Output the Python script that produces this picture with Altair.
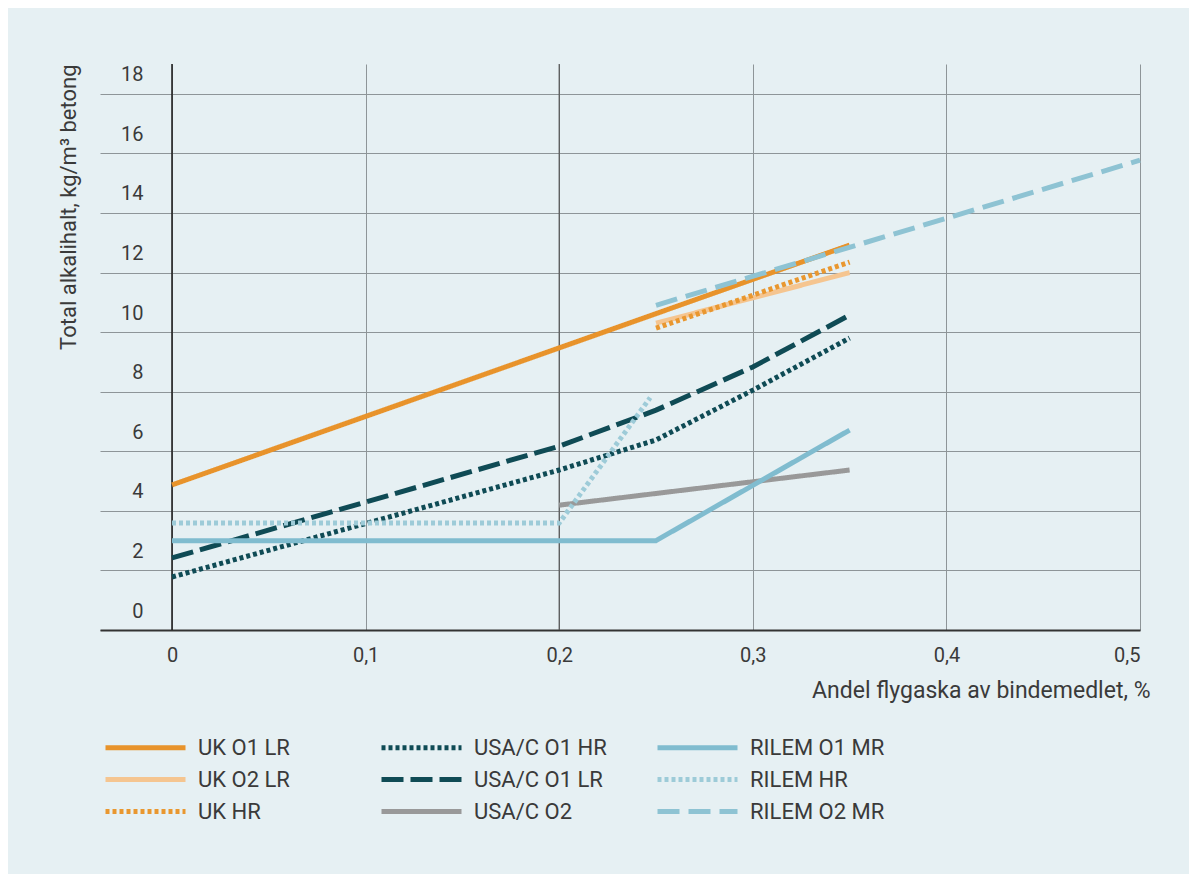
import altair as alt
import pandas as pd

# ---- data ----
series_order = ["UK O1 LR", "UK O2 LR", "UK HR",
                "USA/C O1 HR", "USA/C O1 LR", "USA/C O2",
                "RILEM O1 MR", "RILEM HR", "RILEM O2 MR"]

uk_o1_lr_x = [0, 0.35]
uk_o1_lr_y = [4.87, 12.92]

uk_o2_lr_x = [0.25, 0.35]
uk_o2_lr_y = [10.3, 12.0]

uk_hr_x = [0.25, 0.35]
uk_hr_y = [10.13, 12.35]

usa_o1_hr_x = [0, 0.2, 0.25, 0.3, 0.35]
usa_o1_hr_y = [1.78, 5.37, 6.38, 8.05, 9.8]

usa_o1_lr_x = [0, 0.2, 0.25, 0.3, 0.35]
usa_o1_lr_y = [2.42, 6.17, 7.38, 8.83, 10.57]

usa_o2_x = [0.2, 0.35]
usa_o2_y = [4.19, 5.37]

rilem_o1_mr_x = [0, 0.25, 0.35]
rilem_o1_mr_y = [3.0, 3.0, 6.71]

rilem_hr_x = [0, 0.2, 0.247]
rilem_hr_y = [3.59, 3.59, 7.8]

rilem_o2_mr_x = [0.25, 0.5]
rilem_o2_mr_y = [10.9, 15.77]

x_ticks = [0, 0.1, 0.2, 0.3, 0.4, 0.5]
y_ticks = [0, 2, 4, 6, 8, 10, 12, 14, 16, 18]
ref_black = [0]
ref_dark = [0.2]

colors = ["#E8932B", "#F5C590", "#E9972F",
          "#0F4B55", "#0F4B55", "#999999",
          "#80BCCF", "#9DCBD8", "#8EC3D3"]
dashes = [[1, 0], [1, 0], [4, 3],
          [4, 3], [22, 7], [1, 0],
          [1, 0], [4, 3], [22, 9]]

series_xy = {
    "UK O1 LR": (uk_o1_lr_x, uk_o1_lr_y),
    "UK O2 LR": (uk_o2_lr_x, uk_o2_lr_y),
    "UK HR": (uk_hr_x, uk_hr_y),
    "USA/C O1 HR": (usa_o1_hr_x, usa_o1_hr_y),
    "USA/C O1 LR": (usa_o1_lr_x, usa_o1_lr_y),
    "USA/C O2": (usa_o2_x, usa_o2_y),
    "RILEM O1 MR": (rilem_o1_mr_x, rilem_o1_mr_y),
    "RILEM HR": (rilem_hr_x, rilem_hr_y),
    "RILEM O2 MR": (rilem_o2_mr_x, rilem_o2_mr_y),
}

rows = []
for name in series_order:
    xs, ys = series_xy[name]
    for i, (xv, yv) in enumerate(zip(xs, ys)):
        rows.append({"serie": name, "x": xv, "y": yv, "i": i})
df = pd.DataFrame(rows)

FONT = "Roboto"
TXT = "#3a3a3a"

x_scale = alt.Scale(domain=[-0.0372, 0.5], nice=False, zero=False)
y_scale = alt.Scale(domain=[0, 19], nice=False)

x_axis = alt.Axis(
    values=x_ticks, grid=True, gridColor="#8E9598", gridWidth=1,
    ticks=False, domain=True, domainColor="#333333", domainWidth=2,
    labelExpr="datum.value == 0 ? '0' : replace(format(datum.value, '.1f'), '.', ',')",
    labelFontSize=20, labelColor=TXT, labelFont=FONT, labelPadding=15,
    title="Andel flygaska av bindemedlet, %", titleFont=FONT, titleFontSize=23,
    titleFontWeight="normal", titleColor=TXT, titleX=1050, titleY=60,
    titleAlign="right", titleBaseline="middle",
)
y_axis = alt.Axis(
    values=y_ticks, grid=True, gridColor="#8E9598", gridWidth=1,
    ticks=False, domain=False,
    labelFontSize=20, labelColor=TXT, labelFont=FONT, labelPadding=-43,
    labelAlign="right", labelOffset=-19, labelBaseline="middle",
    title="Total alkalihalt, kg/m³ betong", titleFont=FONT, titleFontSize=22,
    titleFontWeight="normal", titleColor=TXT, titleX=-32, titleY=0,
    titleAngle=270, titleAlign="right", titleBaseline="middle",
)

legend = alt.Legend(
    title=None, orient="none", legendX=3, legendY=671, columns=3,
    gridAlign="all", symbolType="M-4,0H4", symbolSize=400, symbolOffset=30,
    symbolStrokeWidth=5, labelFontSize=22, labelFont=FONT, labelColor=TXT,
    labelOffset=40, rowPadding=8, columnPadding=38, labelLimit=300,
)

color_scale = alt.Scale(domain=series_order, range=colors)
dash_scale = alt.Scale(domain=series_order, range=dashes)

rule0 = alt.Chart(pd.DataFrame({"x": ref_black})).mark_rule(
    color="#222222", strokeWidth=1.6
).encode(x=alt.X("x:Q", scale=x_scale, axis=x_axis))

rule2 = alt.Chart(pd.DataFrame({"x": ref_dark})).mark_rule(
    color="#555555", strokeWidth=1.2
).encode(x=alt.X("x:Q", scale=x_scale))

lines = alt.Chart(df).mark_line(strokeWidth=5, strokeCap="butt").encode(
    x=alt.X("x:Q", scale=x_scale, axis=x_axis),
    y=alt.Y("y:Q", scale=y_scale, axis=y_axis),
    color=alt.Color("serie:N", scale=color_scale, legend=legend, sort=series_order),
    strokeDash=alt.StrokeDash("serie:N", scale=dash_scale, legend=legend, sort=series_order),
    detail="serie:N",
    order="i:Q",
)

chart = alt.layer(rule0, rule2, lines).properties(
    width=1040, height=566,
    background="#E6F0F3",
    autosize=alt.AutoSizeParams(type="none"),
    padding={"left": 92, "top": 56, "right": 49, "bottom": 244},
).configure_view(stroke=None).configure_legend(labelFont=FONT)

chart.save("out.html", embed_options={"renderer": "svg", "actions": False})
